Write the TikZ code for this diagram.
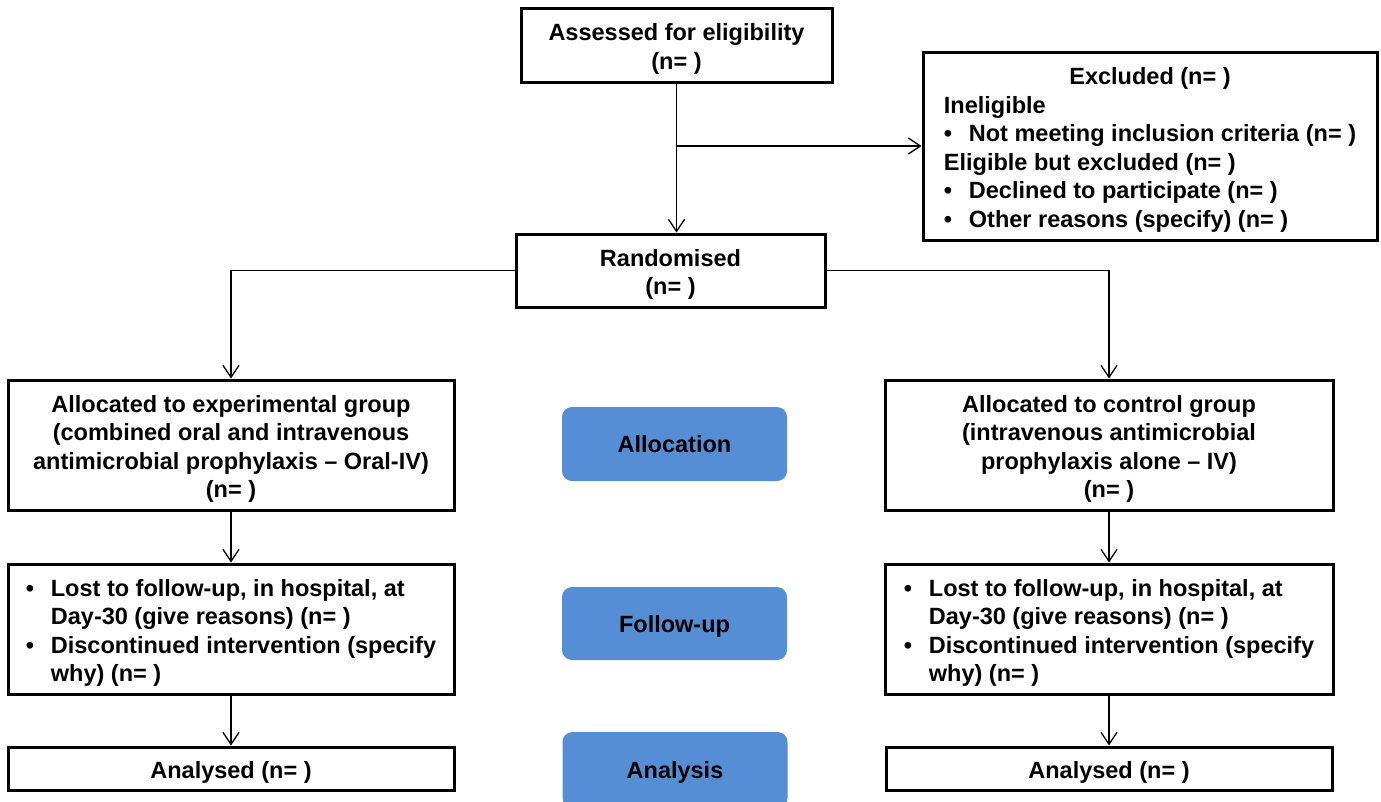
\documentclass[tikz,border=0pt]{standalone}
\usepackage{fontspec}
\setmainfont{Liberation Sans}
\usetikzlibrary{arrows.meta}
\definecolor{phaseblue}{RGB}{85,142,213}
\newcommand{\bul}{\makebox[25pt][l]{•}}
\newcommand{\ind}{\hspace*{25pt}}
\newcommand{\ctext}[1]{\begin{tabular}[b]{@{}c@{}}#1\end{tabular}}
\newcommand{\ltext}[1]{\begin{tabular}[b]{@{}l@{}}#1\end{tabular}}
\tikzset{
  box/.style={draw=black, line width=3pt, fill=white, inner sep=0pt, text depth=0.2pt,
    font=\fontsize{23.5}{28.6}\bfseries\selectfont},
  phase/.style={fill=phaseblue, draw=none, rounded corners=10pt, inner sep=0pt,
    minimum width=225pt, minimum height=74pt, text height=17pt, text depth=0pt,
    font=\fontsize{23.5}{28.6}\bfseries\selectfont},
  conn/.style={draw=black, line width=1.3pt},
  arr/.style={conn, -{Straight Barb[length=12pt,width=16pt,line width=1.3pt]}}
}
\begin{document}
\begin{tikzpicture}[x=1pt,y=-1pt]
\useasboundingbox (0,0) rectangle (1381,801);
\clip (0,0) rectangle (1381,801);
\node[box, minimum width=311pt, minimum height=74pt] (assess) at (676.5,45) {\ctext{Assessed for eligibility\\(n= )}};
\node[box, minimum width=454pt, minimum height=188pt] (excl) at (1150,146)
 {\ltext{\multicolumn{1}{@{}c@{}}{Excluded (n= )}\\
  Ineligible\\
  \bul Not meeting inclusion criteria (n= )\\
  Eligible but excluded (n= )\\
  \bul Declined to participate (n= )\\
  \bul Other reasons (specify) (n= )}};
\node[box, minimum width=309pt, minimum height=73pt] (rand) at (670.5,270.5) {\ctext{Randomised\\(n= )}};
\node[box, minimum width=446pt, minimum height=130pt] (allocL) at (231,445)
 {\ctext{Allocated to experimental group\\(combined oral and intravenous\\antimicrobial prophylaxis – Oral-IV)\\(n= )}};
\node[box, minimum width=448pt, minimum height=130pt] (allocR) at (1109,445)
 {\ctext{Allocated to control group\\(intravenous antimicrobial\\prophylaxis alone – IV)\\(n= )}};
\node[box, minimum width=446pt, minimum height=130pt] (fuL) at (231,629)
 {\ltext{\bul Lost to follow-up, in hospital, at\\ \ind Day-30 (give reasons) (n= )\\
  \bul Discontinued intervention (specify\\ \ind why) (n= )}};
\node[box, minimum width=448pt, minimum height=130pt] (fuR) at (1109,629)
 {\ltext{\bul Lost to follow-up, in hospital, at\\ \ind Day-30 (give reasons) (n= )\\
  \bul Discontinued intervention (specify\\ \ind why) (n= )}};
\node[box, minimum width=446pt, minimum height=43pt] (anL) at (231,768.5) {\ctext{Analysed (n= )}};
\node[box, minimum width=446pt, minimum height=43pt] (anR) at (1109,768.5) {\ctext{Analysed (n= )}};
\node[phase] (pAlloc) at (674.5,444) {Allocation};
\node[phase, minimum height=73pt] (pFU) at (674.5,623.5) {Follow-up};
\node[phase, minimum height=76pt] (pAn) at (675,770) {Analysis};
\coordinate (br) at (assess.south |- excl.west);
\draw[arr] (assess.south) -- (assess.south |- rand.north);
\draw[arr] (br) -- (excl.west);
\draw[arr] (rand.west) -| (allocL.north);
\draw[arr] (rand.east) -| (allocR.north);
\draw[arr] (allocL.south) -- (fuL.north);
\draw[arr] (allocR.south) -- (fuR.north);
\draw[arr] (fuL.south) -- (anL.north);
\draw[arr] (fuR.south) -- (anR.north);
\end{tikzpicture}
\end{document}
